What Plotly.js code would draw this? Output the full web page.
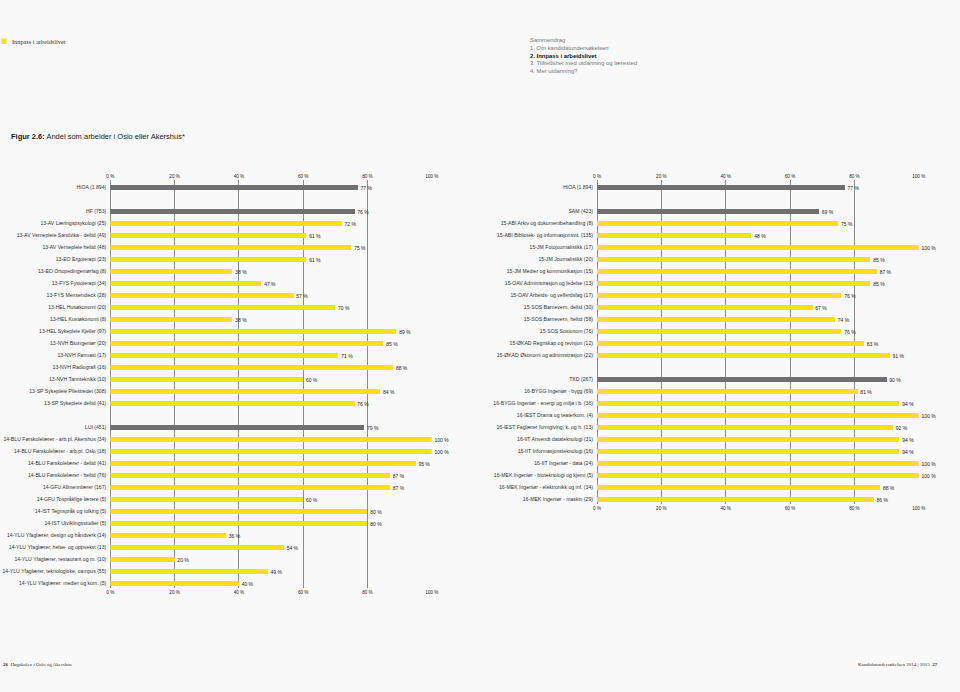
<!DOCTYPE html>
<html>
<head>
<meta charset="utf-8">
<script src="https://cdn.plot.ly/plotly-3.0.1.min.js"></script>
<style>
html,body{margin:0;padding:0;background:#f9f9f9;}
#chart{width:960px;height:692px;}
</style>
</head>
<body>
<div id="chart"></div>
<script>
// ---------- DATA ----------
const hioaLabel = 'HiOA (1 894)';
const hioaValue = 77;

const hfLabel = 'HF (753)';
const hfValue = 76;
const hfCats = [
  '13-AV Læringspsykologi (25)',
  '13-AV Vernepleie Sandvika - deltid (49)',
  '13-AV Vernepleie heltid (48)',
  '13-EO Ergoterapi (23)',
  '13-EO Ortopedingeniørfag (8)',
  '13-FYS Fysioterapi (34)',
  '13-FYS Mensendieck (28)',
  '13-HEL Husøkonomi (20)',
  '13-HEL Kostøkonomi (8)',
  '13-HEL Sykepleie Kjeller (97)',
  '13-NVH Bioingeniør (20)',
  '13-NVH Farmasi (17)',
  '13-NVH Radiografi (16)',
  '13-NVH Tannteknikk (10)',
  '13-SP Sykepleie Pilestredet (308)',
  '13-SP Sykepleie deltid (41)'
];
const hfVals = [72, 61, 75, 61, 38, 47, 57, 70, 38, 89, 85, 71, 88, 60, 84, 76];

const luiLabel = 'LUI (451)';
const luiValue = 79;
const luiCats = [
  '14-BLU Førskolelærer - arb.pl. Akershus (34)',
  '14-BLU Førskolelærer - arb.pl. Oslo (18)',
  '14-BLU Førskolelærer - deltid (41)',
  '14-BLU Førskolelærer - heltid (76)',
  '14-GFU Allmennlærer (167)',
  '14-GFU Tospråklige lærere (5)',
  '14-IST Tegnspråk og tolking (5)',
  '14-IST Utviklingsstudier (5)',
  '14-YLU Yfaglærer, design og håndverk (14)',
  '14-YLU Yfaglærer, helse- og oppvekst (13)',
  '14-YLU Yfaglærer, restaurant og m. (10)',
  '14-YLU Yfaglærer, teknologiske, campus (55)',
  '14-YLU Yfaglærer: medier og kom. (5)'
];
const luiVals = [100, 100, 95, 87, 87, 60, 80, 80, 36, 54, 20, 49, 40];

const samLabel = 'SAM (423)';
const samValue = 69;
const samCats = [
  '15-ABI Arkiv og dokumentbehandling (8)',
  '15-ABI Bibliotek- og informasjonsvit. (135)',
  '15-JM Fotojournalistikk (17)',
  '15-JM Journalistikk (20)',
  '15-JM Medier og kommunikasjon (15)',
  '15-OAV Administrasjon og ledelse (13)',
  '15-OAV Arbeids- og velferdsfag (17)',
  '15-SOS Barnevern, deltid (30)',
  '15-SOS Barnevern, heltid (58)',
  '15-SOS Sosionom (76)',
  '15-ØKAD Regnskap og revisjon (12)',
  '15-ØKAD Økonomi og administrasjon (22)'
];
const samVals = [75, 48, 100, 85, 87, 85, 76, 67, 74, 76, 83, 91];

const tkdLabel = 'TKD (267)';
const tkdValue = 90;
const tkdCats = [
  '16-BYGG Ingeniør - bygg (69)',
  '16-BYGG Ingeniør - energi og miljø i b. (36)',
  '16-IEST Drama og teaterkom. (4)',
  '16-IEST Faglærer formgiving, k. og h. (13)',
  '16-IIT Anvendt datateknologi (31)',
  '16-IIT Informasjonsteknologi (16)',
  '16-IIT Ingeniør - data (24)',
  '16-MEK Ingeniør - bioteknologi og kjemi (5)',
  '16-MEK Ingeniør - elektronikk og inf. (34)',
  '16-MEK Ingeniør - maskin (29)'
];
const tkdVals = [81, 94, 100, 92, 94, 94, 100, 100, 88, 86];

const xTickVals = [0, 20, 40, 60, 80, 100];
const xTickText = ['0 %', '20 %', '40 %', '60 %', '80 %', '100 %'];

// ---------- STYLE ----------
const YELLOW = '#fde01a';
const GREY = '#6f6f6f';
const GRID = '#8c8c8c';
const FONT = 'Liberation Sans, Arial, sans-serif';
const SERIF = 'Liberation Serif, DejaVu Serif, serif';
const W = 960, H = 692;
const NB = '\u00a0';

// build row lists: total row, then [gap, group row, items...] per group
function buildPanel(groups) {
  const rows = [{label: hioaLabel, v: hioaValue, grey: true}];
  groups.forEach(g => {
    rows.push(null); // gap slot
    rows.push({label: g.label, v: g.value, grey: true});
    g.cats.forEach((c, i) => rows.push({label: c, v: g.vals[i], grey: false}));
  });
  return rows;
}
const leftRows = buildPanel([
  {label: hfLabel, value: hfValue, cats: hfCats, vals: hfVals},
  {label: luiLabel, value: luiValue, cats: luiCats, vals: luiVals}
]);
const rightRows = buildPanel([
  {label: samLabel, value: samValue, cats: samCats, vals: samVals},
  {label: tkdLabel, value: tkdValue, cats: tkdCats, vals: tkdVals}
]);

function traces(rows, xa, ya) {
  const out = [];
  [true, false].forEach(isGrey => {
    const xs = [], ys = [];
    rows.forEach((r, i) => { if (r && r.grey === isGrey) { xs.push(r.v); ys.push(i); } });
    out.push({
      type: 'bar', orientation: 'h', x: xs, y: ys, xaxis: xa, yaxis: ya,
      width: 0.38,
      marker: {color: isGrey ? GREY : YELLOW, line: {width: 0}},
      text: xs.map(v => NB + NB + v + ' %'), textposition: 'outside',
      textfont: {family: FONT, size: 5, color: '#222'},
      cliponaxis: false, constraintext: 'none',
      hoverinfo: 'skip', showlegend: false
    });
  });
  return out;
}

function yAxis(rows, domain, bottomSlot, anchor) {
  const tv = [], tt = [];
  rows.forEach((r, i) => { if (r) { tv.push(i); tt.push(r.label); } });
  return {
    domain: domain, anchor: anchor, range: [bottomSlot, -0.625],
    tickmode: 'array', tickvals: tv, ticktext: tt, ticks: '',
    ticklabelstandoff: 3,
    tickfont: {family: FONT, size: 5.15, color: '#333'},
    showgrid: false, zeroline: false, showline: false, fixedrange: true
  };
}
function xAxis(domain, anchor, side, overlay) {
  const ax = {
    domain: domain, anchor: anchor, range: [0, 100], side: side,
    tickmode: 'array', tickvals: xTickVals, ticktext: xTickText, ticks: '',
    tickfont: {family: FONT, size: 4.6, color: '#222'},
    showgrid: true, gridcolor: GRID, gridwidth: 1,
    zeroline: true, zerolinecolor: GRID, zerolinewidth: 1,
    showline: false, fixedrange: true
  };
  if (overlay) { ax.overlaying = overlay; ax.matches = overlay; ax.showgrid = false; ax.zeroline = false; }
  return ax;
}

const px = v => v / W;
const py = v => 1 - v / H;

const leftXDom = [px(110.3), px(431.7)];
const rightXDom = [px(597), px(918.7)];
const leftYDom = [py(588), py(180)];
const rightYDom = [py(504), py(180)];

const data = [].concat(
  traces(leftRows, 'x', 'y'),
  traces(rightRows, 'x2', 'y2')
);

const navLines = [
  ['Sammendrag', false],
  ['1. Om kandidatundersøkelsen', false],
  ['2. Innpass i arbeidslivet', true],
  ['3. Tilfredshet med utdanning og lærested', false],
  ['4. Mer utdanning?', false]
];
const navY = [40.5, 48.2, 55.8, 63.4, 71];

const annotations = [
  {text: 'Innpass i arbeidslivet', x: px(10), y: py(41.5), xref: 'paper', yref: 'paper',
   xanchor: 'left', yanchor: 'middle', showarrow: false,
   font: {family: SERIF, size: 6.3, color: '#333'}},
  {text: '<b>Figur 2.6:</b> Andel som arbeider i Oslo eller Akershus*', x: px(8.5), y: py(136.5),
   xref: 'paper', yref: 'paper', xanchor: 'left', yanchor: 'middle', showarrow: false,
   font: {family: FONT, size: 7.5, color: '#222'}},
  {text: '<b>26</b>  Høgskolen i Oslo og Akershus', x: px(0.5), y: py(664), xref: 'paper', yref: 'paper',
   xanchor: 'left', yanchor: 'middle', showarrow: false,
   font: {family: SERIF, size: 5, color: '#333'}},
  {text: 'Kandidatundersøkelsen 2014 | 2015  <b>27</b>', x: px(940), y: py(664), xref: 'paper', yref: 'paper',
   xanchor: 'right', yanchor: 'middle', showarrow: false,
   font: {family: SERIF, size: 5, color: '#333'}}
];
navLines.forEach((n, i) => annotations.push({
  text: n[1] ? '<b>' + n[0] + '</b>' : n[0], x: px(527.5), y: py(navY[i]),
  xref: 'paper', yref: 'paper', xanchor: 'left', yanchor: 'middle', showarrow: false,
  font: {family: FONT, size: 5.9, color: n[1] ? '#111' : '#777'}
}));

const layout = {
  width: W, height: H,
  margin: {l: 0, r: 0, t: 0, b: 0},
  paper_bgcolor: '#f9f9f9', plot_bgcolor: 'rgba(0,0,0,0)',
  font: {family: FONT},
  bargap: 0,
  showlegend: false,
  xaxis: xAxis(leftXDom, 'y', 'bottom'),
  xaxis3: xAxis(leftXDom, 'y', 'top', 'x'),
  yaxis: yAxis(leftRows, leftYDom, 33.375, 'x'),
  xaxis2: xAxis(rightXDom, 'y2', 'bottom'),
  xaxis4: xAxis(rightXDom, 'y2', 'top', 'x2'),
  yaxis2: yAxis(rightRows, rightYDom, 26.375, 'x2'),
  shapes: [
    {type: 'rect', xref: 'paper', yref: 'paper', x0: px(1.5), x1: px(6.5), y0: py(44), y1: py(38.5),
     fillcolor: YELLOW, line: {width: 0}}
  ],
  annotations: annotations
};

// invisible traces so the overlaying top axes render
data.push({type: 'scatter', x: [0], y: [0], xaxis: 'x3', yaxis: 'y', mode: 'markers',
  marker: {opacity: 0}, hoverinfo: 'skip', showlegend: false});
data.push({type: 'scatter', x: [0], y: [0], xaxis: 'x4', yaxis: 'y2', mode: 'markers',
  marker: {opacity: 0}, hoverinfo: 'skip', showlegend: false});

Plotly.newPlot('chart', data, layout, {displayModeBar: false, staticPlot: true});
</script>
</body>
</html>
